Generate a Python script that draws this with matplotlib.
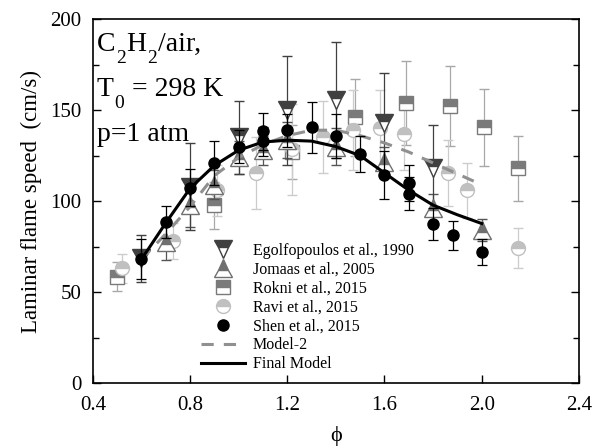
import matplotlib
matplotlib.use("Agg")
import matplotlib.pyplot as plt
from matplotlib.lines import Line2D

plt.rcParams['font.family'] = ['Liberation Serif', 'DejaVu Serif']

# 实验数据
ego_x = [0.6, 0.8, 1.0, 1.2, 1.4, 1.6, 1.8]
ego_y = [68.5, 108, 135, 150, 155.5, 142.7, 118]
ego_e = [13, 24, 20, 30, 32, 28, 24]

jom_x = [0.7, 0.8, 0.9, 1.0, 1.1, 1.2, 1.4, 1.6, 1.8, 2.0]
jom_y = [77.6, 97.8, 109, 124, 128, 133.5, 130, 121.6, 96, 84]
jom_e = [10, 12, 8, 9, 8, 10, 10, 8, 8, 6]

rok_x = [0.5, 0.9, 1.22, 1.48, 1.69, 1.87, 2.01, 2.15]
rok_y = [58.4, 97.8, 127, 146, 154, 152.5, 140.5, 118]
rok_e = [8, 13, 15, 21, 23, 22, 21, 18]

ravi_x = [0.52, 0.73, 0.91, 1.07, 1.22, 1.345, 1.47, 1.58, 1.68, 1.86, 1.94, 2.15]
ravi_y = [63, 78, 106, 115.5, 128.6, 135.3, 139, 140, 137, 115.5, 106, 74]
ravi_e = [8, 10, 14, 20, 25, 20, 22, 21, 20, 18, 15, 11]

shen_x = [0.6, 0.7, 0.8, 0.9, 1.0, 1.1, 1.1, 1.2, 1.3, 1.4, 1.5, 1.6, 1.7, 1.7, 1.8, 1.88, 2.0]
shen_y = [68, 88.6, 107.5, 121, 130, 138.3, 133, 139, 140.5, 135.7, 126, 114.3, 110, 104, 87.4, 81.3, 72]
shen_e = [11, 9, 10, 12, 9, 10, 8, 9, 14, 12, 10, 13, 10, 9, 9, 8, 7]

# 模型曲线
mod_x = [0.6, 0.7, 0.8, 0.9, 1.0, 1.1, 1.2, 1.3, 1.4, 1.5, 1.6, 1.7, 1.8, 1.9, 2.0]
model2_y = [68, 82, 97, 114, 124, 131, 136, 139, 139, 136, 132, 127, 121, 115, 109]
final_y = [68, 88, 107, 119.6, 128, 132.5, 133.5, 133, 130, 125, 115.5, 106, 97.8, 92.5, 87.7]

fig = plt.figure(figsize=(5.95, 4.47), dpi=100)
ax = fig.add_axes([0.156, 0.143, 0.817, 0.814])

# 半填充标记的样式
styles = {
    "Egolfopoulos et al., 1990": dict(marker="v", c="#404040", ec="#404040", ms=12.5),
    "Jomaas et al., 2005": dict(marker="^", c="#707070", ec="#555555", ms=12.5),
    "Rokni et al., 2015": dict(marker="s", c="#7a7a7a", ec="#a8a8a8", ms=10),
    "Ravi et al., 2015": dict(marker="o", c="#c0c0c0", ec="#cccccc", ms=10),
}

def half(name, x, y, e, z):
    s = styles[name]
    ax.errorbar(x, y, yerr=e, linestyle="none", marker=s["marker"], markersize=s["ms"],
                fillstyle="top", markerfacecolor=s["c"], markerfacecoloralt="white",
                markeredgecolor=s["c"], markeredgewidth=1.0, ecolor=s["ec"],
                capsize=3.5, elinewidth=0.9, capthick=0.9, zorder=z)

half("Rokni et al., 2015", rok_x, rok_y, rok_e, 2)
half("Ravi et al., 2015", ravi_x, ravi_y, ravi_e, 2)
half("Jomaas et al., 2005", jom_x, jom_y, jom_e, 3)
half("Egolfopoulos et al., 1990", ego_x, ego_y, ego_e, 3)
ax.errorbar(shen_x, shen_y, yerr=shen_e, marker="o", color="black", ecolor="black",
            linestyle="none", capsize=3.5, elinewidth=0.9, capthick=0.9, markersize=8,
            zorder=5)

ax.plot(mod_x, model2_y, color="#909090", linestyle=(0, (4, 3.3)), linewidth=2.2, zorder=4)
ax.plot(mod_x, final_y, color="black", linewidth=2.2, zorder=6)

ax.set_xlim(0.4, 2.4)
ax.set_ylim(0, 200)
ax.set_xticks([0.4, 0.8, 1.2, 1.6, 2.0, 2.4])
ax.set_xticklabels(["0.4", "0.8", "1.2", "1.6", "2.0", "2.4"])
ax.set_yticks([0, 50, 100, 150, 200])
ax.set_yticks([25, 75, 125, 175], minor=True)
ax.tick_params(axis="both", which="both", direction="in", labelsize=15,
               right=True, top=False, length=6, width=1)
ax.tick_params(axis="y", which="minor", length=4)
ax.tick_params(axis="x", which="major", pad=9)
ax.tick_params(axis="y", which="major", pad=8)
for s in ax.spines.values():
    s.set_linewidth(1.2)

ax.set_xlabel("ϕ", fontsize=16, labelpad=8)
ax.set_ylabel("Laminar flame speed  (cm/s)", fontsize=16.5, labelpad=6)

# 带下标的文字，逐段拼接
def sub_text(parts, x, y):
    first = ax.text(x, y, parts[0][0], transform=ax.transAxes, fontsize=20, va="bottom")
    prev = first
    for txt, is_sub in parts[1:]:
        if is_sub:
            prev = ax.annotate(txt, xy=(1, 0), xycoords=(prev, first), xytext=(0.5, -7),
                               textcoords="offset points", fontsize=14, va="bottom")
        else:
            prev = ax.annotate(txt, xy=(1, 0), xycoords=(prev, first), xytext=(0.5, 0),
                               textcoords="offset points", fontsize=20, va="bottom")

sub_text([("C", 0), ("2", 1), ("H", 0), ("2", 1), ("/air,", 0)], 0.008, 0.896)
sub_text([("T", 0), ("0", 1), (" = 298 K", 0)], 0.008, 0.772)
ax.text(0.008, 0.649, "p=1 atm", transform=ax.transAxes, fontsize=20, va="bottom")

# 图例用代理句柄（不带误差棒）
handles = []
for name, s in styles.items():
    handles.append(Line2D([], [], linestyle="none", marker=s["marker"], markersize=s["ms"],
                          fillstyle="top", markerfacecolor=s["c"], markerfacecoloralt="white",
                          markeredgecolor=s["c"]))
handles.append(Line2D([], [], linestyle="none", marker="o", markersize=8, color="black"))
handles.append(Line2D([], [], color="#909090", linestyle=(0, (4, 3.3)), linewidth=2.2))
handles.append(Line2D([], [], color="black", linewidth=2.2))
labels = list(styles.keys()) + ["Shen et al., 2015", "Model-2", "Final Model"]
ax.legend(handles, labels, loc="lower left", bbox_to_anchor=(0.222, 0.03),
          frameon=False, fontsize=11.5, handlelength=2.8, handletextpad=0.45,
          labelspacing=0.18, borderpad=0, borderaxespad=0)

fig.savefig("out.png", dpi=100)
